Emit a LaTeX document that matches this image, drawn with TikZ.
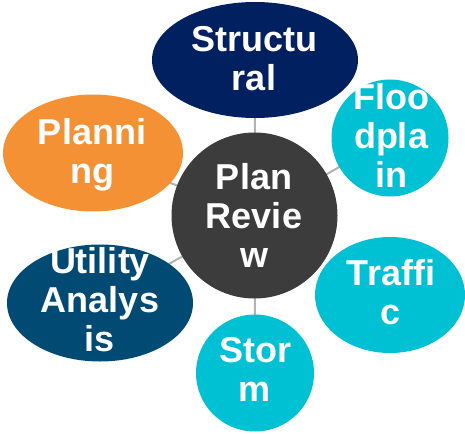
\documentclass[tikz,border=0pt]{standalone}
\usepackage{fontspec}
\setmainfont{Liberation Sans}
\usetikzlibrary{shapes.geometric}
\definecolor{navy}{RGB}{0,32,96}
\definecolor{hubgrey}{RGB}{60,60,60}
\definecolor{cyanb}{RGB}{0,192,212}
\definecolor{darkblue}{RGB}{0,74,115}
\definecolor{orangeb}{RGB}{243,145,52}
\definecolor{linkgrey}{RGB}{178,178,178}
\tikzset{
  blob/.style={ellipse, inner sep=0pt, draw=none},
  lbl/.style={text=white, align=center, font=\bfseries\fontsize{36}{39}\selectfont, inner sep=0pt},
  link/.style={draw=linkgrey, line width=2pt}
}
\begin{document}
\begin{tikzpicture}[x=1pt,y=-1pt]
\useasboundingbox (0,0) rectangle (465,433);
% connectors (behind)
\coordinate (c) at (254.5,215.5);
\coordinate (cs) at (255,60);
\coordinate (cf) at (390,138);
\coordinate (ct) at (390,295);
\coordinate (cm) at (255,373);
\coordinate (cu) at (100,303);
\coordinate (cp) at (93,153);
\foreach \t in {cs,cf,cm,cu,cp} \draw[link] (c) -- (\t);
% shapes
\node[blob, fill=navy, minimum width=206pt, minimum height=116pt] (structural) at (cs) {};
\node[blob, fill=cyanb, minimum width=117pt, minimum height=117pt] (flood) at (cf) {};
\node[blob, fill=cyanb, minimum width=150pt, minimum height=116pt] (traffic) at (ct) {};
\node[blob, fill=cyanb, minimum width=118pt, minimum height=117pt] (storm) at (cm) {};
\node[blob, fill=darkblue, minimum width=186pt, minimum height=117pt] (utility) at (cu) {};
\node[blob, fill=orangeb, minimum width=180pt, minimum height=117pt] (planning) at (cp) {};
\node[circle, fill=hubgrey, inner sep=0pt, minimum size=166pt] (hub) at (c) {};
% labels
\node[lbl] (tstructural) at (254,58.5) {Structu\\ral};
\node[lbl] (thub) at (254,215) {Plan\\Revie\\w};
\node[lbl] (tflood) at (391,135.5) {Floo\\dpla\\in};
\node[lbl] (ttraffic) at (391,292.5) {Traffi\\c};
\node[lbl] (tstorm) at (255,369.5) {Stor\\m};
\node[lbl] (tutility) at (100,299.5) {Utility\\Analys\\is};
\node[lbl] (tplanning) at (92,154.5) {Planni\\ng};
\end{tikzpicture}
\end{document}
